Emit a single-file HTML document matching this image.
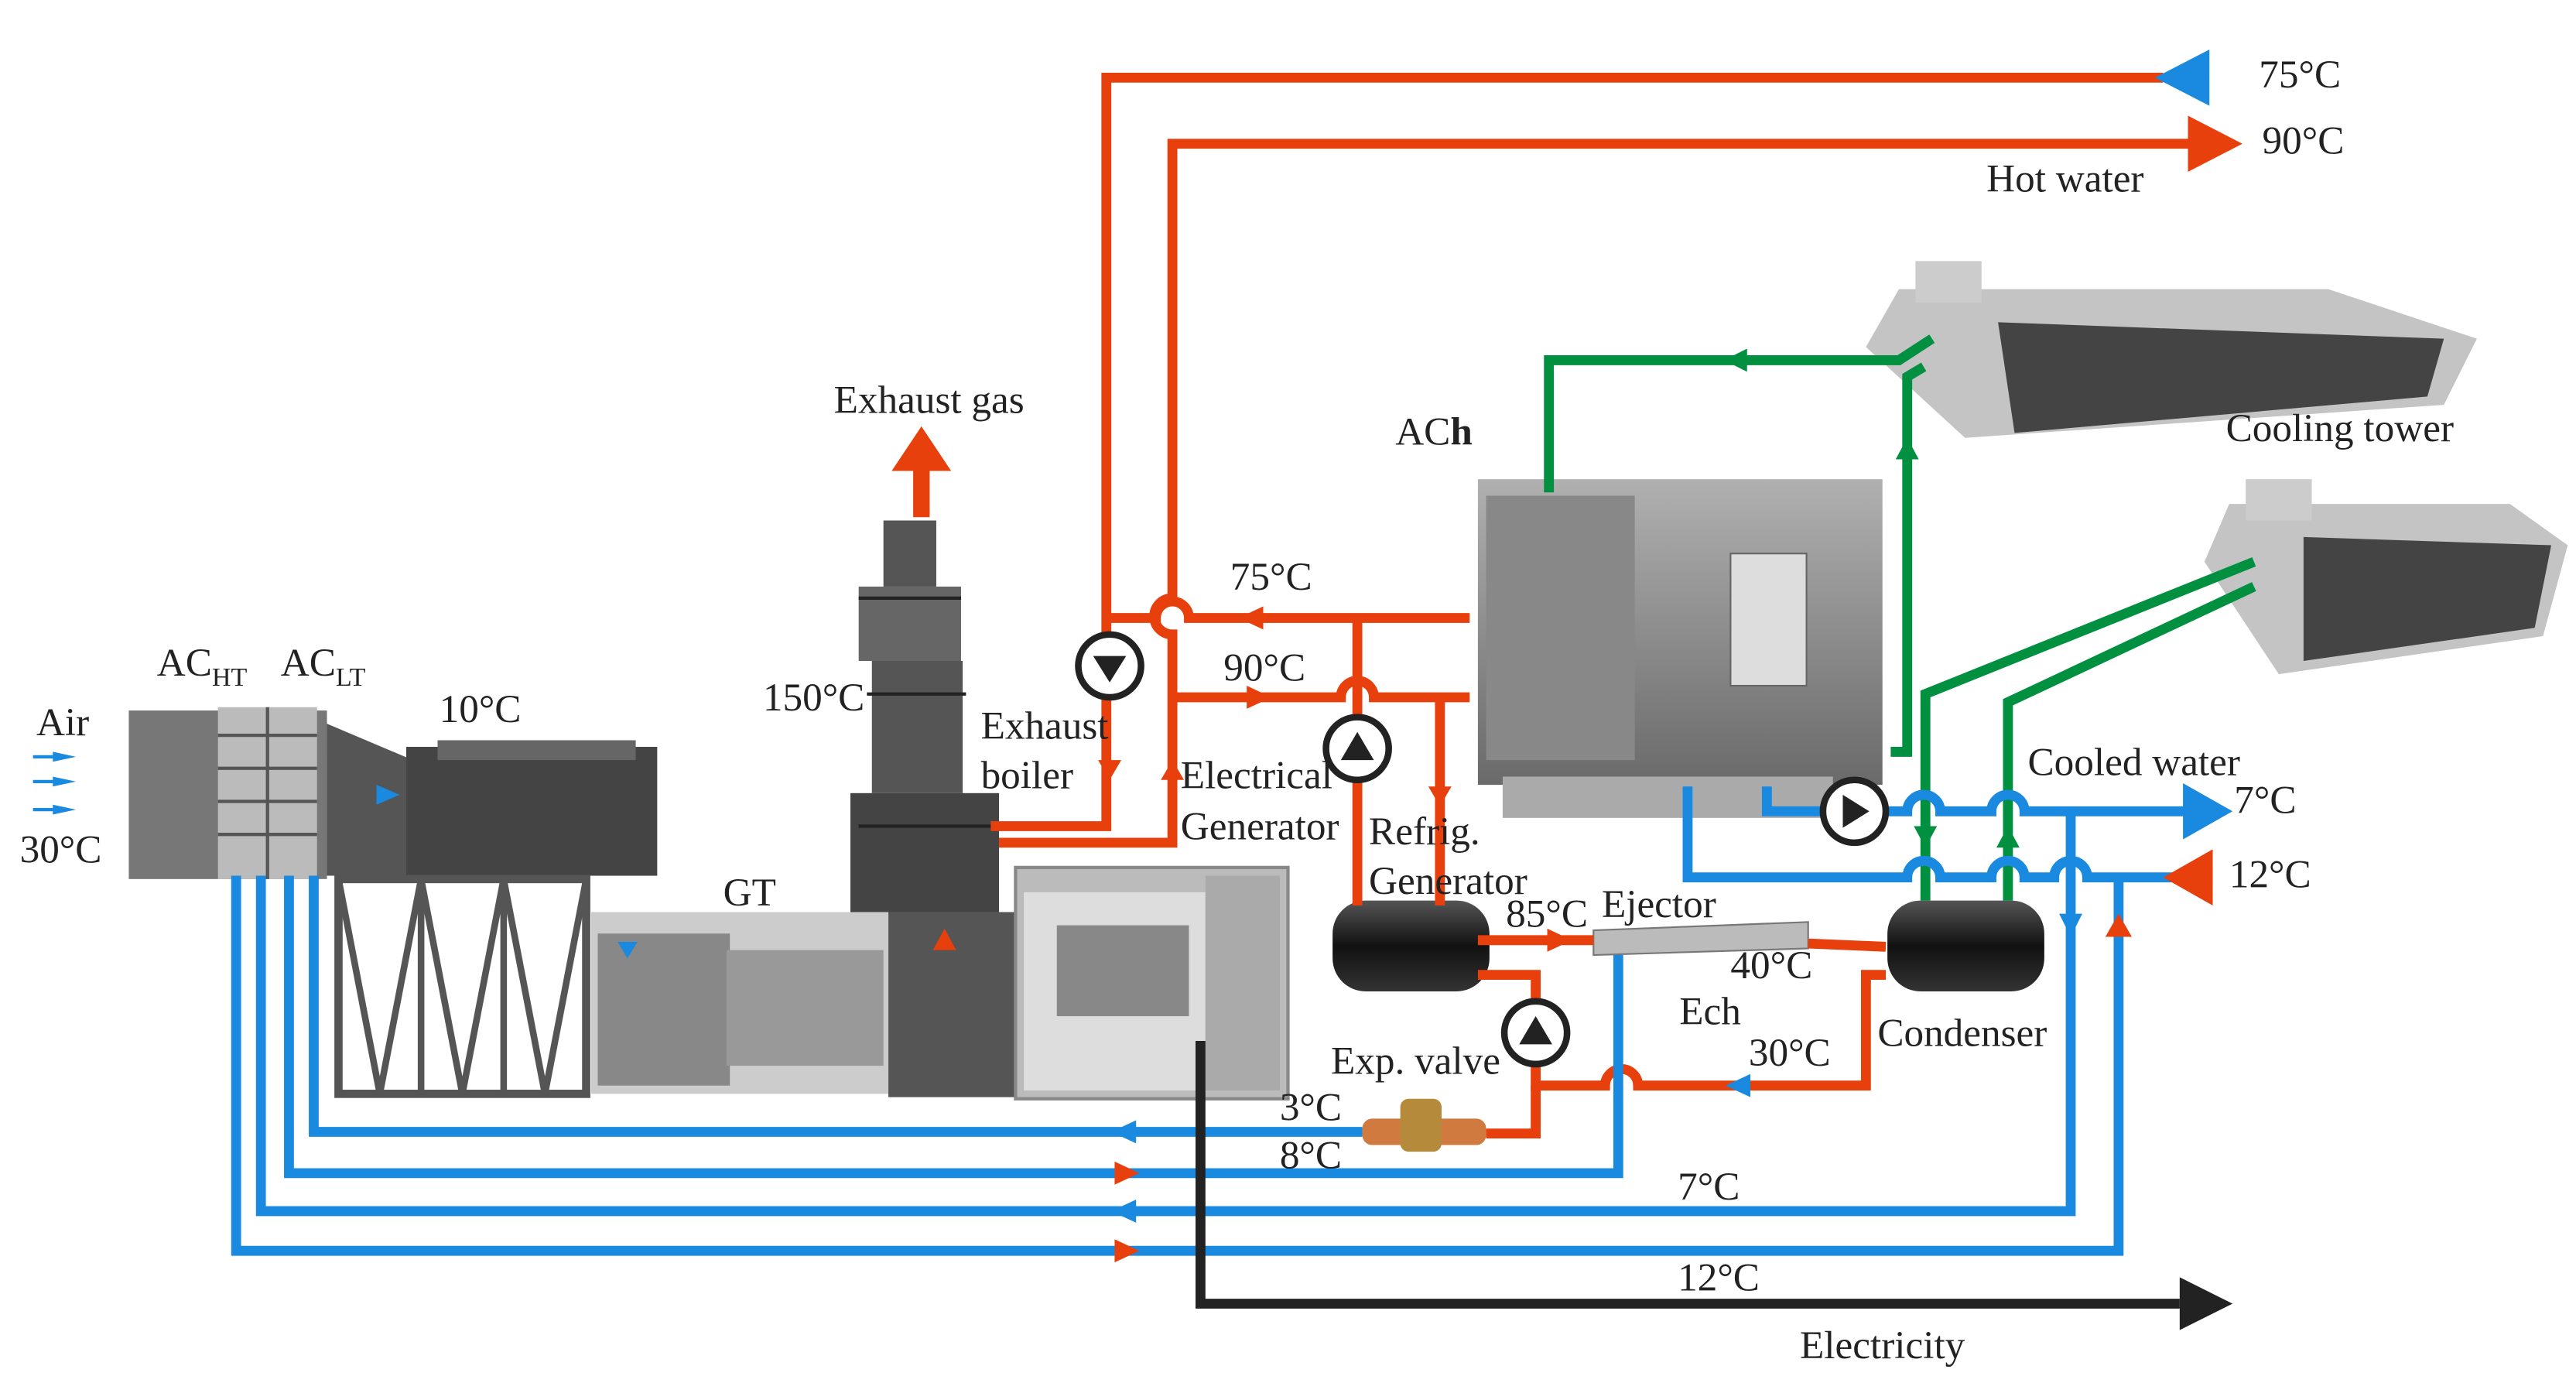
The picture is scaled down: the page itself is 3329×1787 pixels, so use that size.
<!DOCTYPE html>
<html><head><meta charset="utf-8"><style>
html,body{margin:0;padding:0;background:#fff;}
svg{display:block;}
text{font-family:"Liberation Serif",serif;font-size:24px;fill:#222;}
</style></head><body>
<svg width="3329" height="1787" viewBox="0 0 1560 837" preserveAspectRatio="none" xmlns="http://www.w3.org/2000/svg">
<defs>
<linearGradient id="mg" x1="0" x2="0" y1="0" y2="1"><stop offset="0" stop-color="#b0b0b0"/><stop offset="1" stop-color="#6a6a6a"/></linearGradient>
<linearGradient id="cy" x1="0" x2="0" y1="0" y2="1"><stop offset="0" stop-color="#555"/><stop offset=".5" stop-color="#111"/><stop offset="1" stop-color="#333"/></linearGradient>
</defs>
<rect x="78" y="430" width="120" height="102" fill="#777"/>
<rect x="132" y="428" width="60" height="104" fill="#bbb"/>
<g stroke="#555" stroke-width="2"><line x1="132" y1="445" x2="192" y2="445"/><line x1="132" y1="465" x2="192" y2="465"/><line x1="132" y1="485" x2="192" y2="485"/><line x1="132" y1="505" x2="192" y2="505"/><line x1="162" y1="428" x2="162" y2="532"/></g>
<polygon points="198,438 250,460 250,530 198,530" fill="#555"/>
<rect x="246" y="452" width="152" height="78" fill="#444"/>
<rect x="265" y="448" width="120" height="12" fill="#666"/>
<rect x="205" y="532" width="150" height="130" fill="#fff" stroke="#555" stroke-width="5"/>
<g stroke="#555" stroke-width="4" fill="none"><line x1="255" y1="532" x2="255" y2="662"/><line x1="305" y1="532" x2="305" y2="662"/><path d="M205,532 L230,662 L255,532 L280,662 L305,532 L330,662 L355,532"/></g>
<rect x="358" y="552" width="182" height="110" fill="#ccc"/>
<rect x="362" y="565" width="80" height="92" fill="#888"/>
<rect x="440" y="575" width="95" height="70" fill="#999"/>
<rect x="538" y="552" width="80" height="112" fill="#555"/>
<rect x="535" y="315" width="32" height="40" fill="#555"/>
<rect x="520" y="355" width="62" height="45" fill="#666"/>
<rect x="528" y="400" width="55" height="80" fill="#555"/>
<rect x="515" y="480" width="90" height="72" fill="#444"/>
<g stroke="#222" stroke-width="2"><line x1="520" y1="362" x2="582" y2="362"/><line x1="525" y1="420" x2="585" y2="420"/><line x1="520" y1="500" x2="600" y2="500"/></g>
<rect x="615" y="525" width="165" height="140" fill="#bbb" stroke="#888" stroke-width="2"/>
<rect x="620" y="540" width="110" height="120" fill="#ddd"/>
<rect x="640" y="560" width="80" height="55" fill="#888"/>
<rect x="730" y="530" width="45" height="130" fill="#aaa"/>
<rect x="895" y="290" width="245" height="185" fill="url(#mg)"/>
<rect x="900" y="300" width="90" height="160" fill="#888"/>
<rect x="1048" y="335" width="46" height="80" fill="#ddd" stroke="#666"/>
<rect x="910" y="470" width="200" height="25" fill="#aaa"/>
<g>
<polygon points="1150,175 1410,175 1500,205 1480,245 1190,265 1130,210" fill="#c4c4c4"/>
<polygon points="1210,195 1480,205 1470,240 1220,262" fill="#444"/>
<rect x="1160" y="158" width="40" height="25" fill="#ccc"/>
</g>
<g>
<polygon points="1350,305 1520,305 1555,330 1540,385 1380,408 1335,340" fill="#c4c4c4"/>
<polygon points="1395,325 1545,330 1535,380 1395,400" fill="#444"/>
<rect x="1360" y="290" width="40" height="25" fill="#ccc"/>
</g>
<rect x="807" y="545" width="95" height="55" rx="20" fill="url(#cy)"/>
<rect x="1143" y="545" width="95" height="55" rx="20" fill="url(#cy)"/>
<polygon points="965,563 1095,558 1095,574 965,578" fill="#bbb" stroke="#777"/>
<rect x="825" y="677" width="75" height="16" rx="6" fill="#d07a40"/>
<rect x="848" y="665" width="25" height="32" rx="5" fill="#b58a3a"/>
<g fill="none" stroke="#e8400c" stroke-width="6">
<path d="M1310,47 H670 V500 H600"/>
<path d="M1330,87 H710 V362 a10,10 0 0 0 0,22 V510 H605"/>
<path d="M890,374 H720 a10,10 0 0 0 -20,0 H670"/>
<path d="M710,422 H812 a10,10 0 0 1 20,0 H890"/>
<path d="M822,374 V548"/>
<path d="M872,422 V548"/>
<path d="M895,569 H965"/>
<path d="M1095,571 L1142,573"/>
<path d="M895,590 H930 V657 H972 a10,10 0 0 1 20,0 H1130 V590 H1142"/>
<path d="M930,657 V686 H900"/>
</g>
<g fill="none" stroke="#009040" stroke-width="6">
<path d="M938,298 V218 H1150 L1170,205"/>
<path d="M1145,455 H1155 V228 L1165,222"/>
<path d="M1166,545 V420 L1365,340"/>
<path d="M1216,545 V425 L1365,355"/>
</g>
<g fill="none" stroke="#1a8ae0" stroke-width="6">
<path d="M1070,476 V491 H1155 a10,10 0 0 1 20,0 H1206 a10,10 0 0 1 20,0 H1325"/>
<path d="M1022,476 V531 H1155 a10,10 0 0 1 20,0 H1206 a10,10 0 0 1 20,0 H1244 a10,10 0 0 1 20,0 H1340"/>
<path d="M1254,491 V733 H158 V530"/>
<path d="M1283,531 V757 H143 V530"/>
<path d="M980,578 V710 H175 V530"/>
<path d="M825,685 H190 V530"/>
</g>
<path d="M727,630 V789 H1320" fill="none" stroke="#222" stroke-width="6"/>
<polygon points="1320,773 1352,789 1320,805" fill="#222"/>
<polygon points="1338,30 1305,47 1338,64" fill="#1a8ae0"/>
<polygon points="1325,70 1358,87 1325,104" fill="#e8400c"/>
<polygon points="1322,474 1352,491 1322,508" fill="#1a8ae0"/>
<polygon points="1340,514 1310,531 1340,548" fill="#e8400c"/>
<polygon points="540,285 558,258 576,285" fill="#e8400c"/>
<rect x="553" y="283" width="10" height="30" fill="#e8400c"/>
<g fill="#e8400c">
<polygon points="765,367 750,374 765,381"/><polygon points="755,415 770,422 755,429"/>
<polygon points="665,460 672,472 679,460"/><polygon points="703,472 710,460 717,472"/>
<polygon points="865,476 872,488 879,476"/>
<polygon points="937,562 952,569 937,576"/>
<polygon points="675,703 690,710 675,717"/><polygon points="675,750 690,757 675,764"/>
<polygon points="1275,567 1283,553 1291,567"/><polygon points="565,575 572,562 579,575"/>
</g>
<g fill="#1a8ae0">
<polygon points="1060,650 1045,657 1060,664"/>
<polygon points="688,678 673,685 688,692"/><polygon points="688,726 673,733 688,740"/>
<polygon points="1247,553 1254,567 1261,553"/>
<polygon points="32,455 46,458 32,461"/><polygon points="32,470 46,473 32,476"/><polygon points="32,487 46,490 32,493"/>
<polygon points="228,475 242,481 228,487"/><polygon points="374,570 380,580 386,570"/>
</g>
<g fill="#009040">
<polygon points="1058,211 1044,218 1058,225"/><polygon points="1148,278 1155,265 1162,278"/>
<polygon points="1159,500 1166,513 1173,500"/><polygon points="1209,513 1216,500 1223,513"/>
</g>
<g stroke="#1a8ae0" stroke-width="2"><line x1="20" y1="458" x2="34" y2="458"/><line x1="20" y1="473" x2="34" y2="473"/><line x1="20" y1="490" x2="34" y2="490"/></g>
<g fill="#fff" stroke="#222" stroke-width="4">
<circle cx="672" cy="403" r="19"/><circle cx="822" cy="453" r="19"/><circle cx="930" cy="625" r="19"/><circle cx="1123" cy="491" r="19"/>
</g>
<g fill="#222">
<polygon points="662,397 682,397 672,413"/><polygon points="812,460 832,460 822,443"/><polygon points="920,632 940,632 930,615"/><polygon points="1116,481 1116,501 1132,491"/>
</g>
<text x="1368" y="53">75°C</text>
<text x="1370" y="93">90°C</text>
<text x="1203" y="116">Hot water</text>
<text x="1348" y="267">Cooling tower</text>
<text x="845" y="269">AC<tspan font-weight="bold">h</tspan></text>
<text x="505" y="250">Exhaust gas</text>
<text x="745" y="357">75°C</text>
<text x="741" y="412">90°C</text>
<text x="462" y="430">150°C</text>
<text x="594" y="447">Exhaust</text>
<text x="594" y="477">boiler</text>
<text x="715" y="477">Electrical</text>
<text x="715" y="508">Generator</text>
<text x="829" y="511">Refrig.</text>
<text x="829" y="541">Generator</text>
<text x="912" y="561">85°C</text>
<text x="970" y="555">Ejector</text>
<text x="1048" y="592">40°C</text>
<text x="1017" y="620">Ech</text>
<text x="1059" y="645">30°C</text>
<text x="1137" y="633">Condenser</text>
<text x="806" y="650">Exp. valve</text>
<text x="775" y="678">3°C</text>
<text x="775" y="707">8°C</text>
<text x="1016" y="726">7°C</text>
<text x="1016" y="781">12°C</text>
<text x="1090" y="822">Electricity</text>
<text x="1228" y="469">Cooled water</text>
<text x="1353" y="492">7°C</text>
<text x="1350" y="537">12°C</text>
<text x="438" y="548">GT</text>
<text x="266" y="437">10°C</text>
<text x="22" y="445">Air</text>
<text x="12" y="522">30°C</text>
<text x="95" y="409">AC<tspan font-size="16" dy="6">HT</tspan></text>
<text x="170" y="409">AC<tspan font-size="16" dy="6">LT</tspan></text>
</svg>
</body></html>
